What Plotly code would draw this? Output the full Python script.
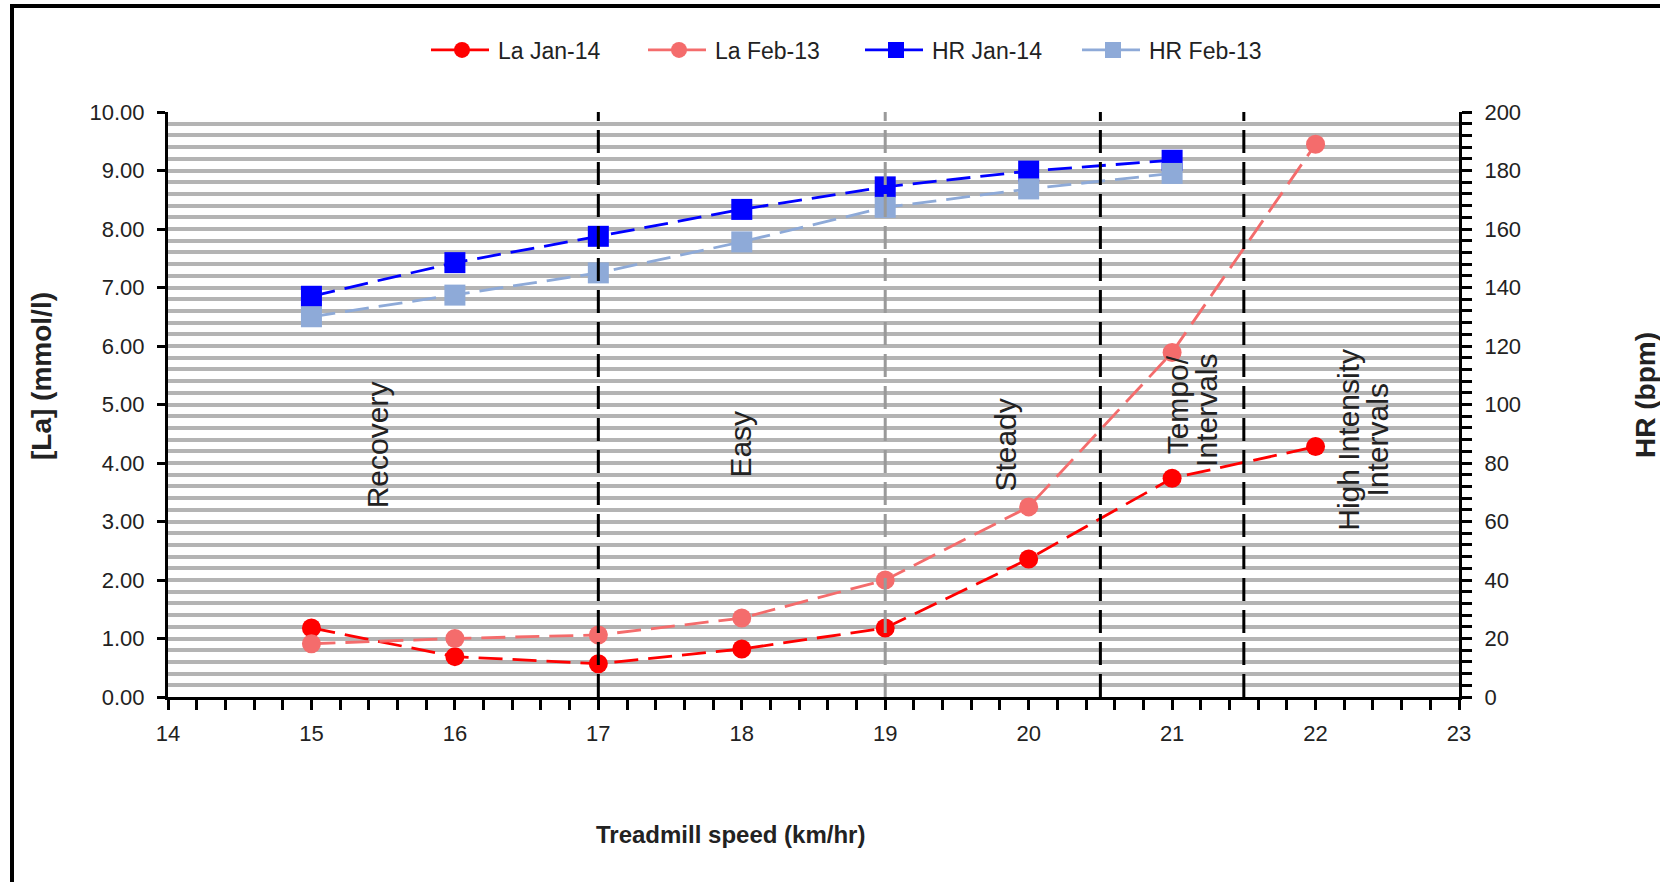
import plotly.graph_objects as go

# ---------------- data ----------------
speed_la = [15, 16, 17, 18, 19, 20, 21, 22]
la_jan14 = [1.18, 0.69, 0.57, 0.82, 1.18, 2.36, 3.74, 4.28]
la_feb13 = [0.91, 1.00, 1.06, 1.35, 2.00, 3.25, 5.89, 9.45]

speed_hr = [15, 16, 17, 18, 19, 20, 21]
hr_jan14 = [137, 148.5, 157.5, 166.7, 174.4, 179.8, 183.5]
hr_feb13 = [130, 137.4, 145, 155.6, 167.4, 173.7, 179]

series_names = ["La Jan-14", "La Feb-13", "HR Jan-14", "HR Feb-13"]

zone_lines_x = [17, 19, 20.5, 21.5]
zone_lines_color = ["black", "#9a9a9a", "black", "black"]

zone_labels = ["Recovery", "Easy", "Steady", "Tempo/", "Intervals", "High Intensity", "Intervals"]
zone_label_x = [15.46, 17.99, 19.84, 21.04, 21.24, 22.23, 22.43]
zone_label_y = [4.31, 4.32, 4.31, 5.0, 4.9, 4.39, 4.39]

x_title = "Treadmill speed (km/hr)"
y_title = "[La] (mmol/l)"
y2_title = "HR (bpm)"

# ---------------- layout geometry ----------------
W, H = 1660, 882
L, R, T, B = 168, 1459, 112, 697
FONT = "Liberation Sans, Arial, sans-serif"


def px_x(px):
    return (px - L) / (R - L)


def px_y(py):
    return (B - py) / (B - T)


RED = "#ff0000"
LRED = "#f46c6c"
BLUE = "#0000ff"
LBLUE = "#8eaad8"
DASH = "24px,10px"

fig = go.Figure()
fig.add_trace(go.Scatter(x=speed_la, y=la_jan14, name=series_names[0], mode="lines+markers",
                         line=dict(color=RED, width=2.8, dash=DASH),
                         marker=dict(symbol="circle", size=19, color=RED), yaxis="y"))
fig.add_trace(go.Scatter(x=speed_la, y=la_feb13, name=series_names[1], mode="lines+markers",
                         line=dict(color=LRED, width=2.8, dash=DASH),
                         marker=dict(symbol="circle", size=19, color=LRED), yaxis="y"))
fig.add_trace(go.Scatter(x=speed_hr, y=hr_jan14, name=series_names[2], mode="lines+markers",
                         line=dict(color=BLUE, width=2.8, dash=DASH),
                         marker=dict(symbol="square", size=21, color=BLUE), yaxis="y2"))
fig.add_trace(go.Scatter(x=speed_hr, y=hr_feb13, name=series_names[3], mode="lines+markers",
                         line=dict(color=LBLUE, width=2.8, dash=DASH),
                         marker=dict(symbol="square", size=21, color=LBLUE), yaxis="y2"))

shapes = []
for xv, col in zip(zone_lines_x, zone_lines_color):
    shapes.append(dict(type="line", xref="x", yref="y", x0=xv, x1=xv, y0=0, y1=10,
                       line=dict(color=col, width=3, dash="23px,9px"), layer="above"))
# outer frame (only top and left edges are visible)
shapes.append(dict(type="rect", xref="paper", yref="paper",
                   x0=px_x(12), x1=px_x(1720), y0=px_y(6), y1=px_y(940),
                   line=dict(color="black", width=4), layer="below"))

annotations = []
for txt, xv, yv in zip(zone_labels, zone_label_x, zone_label_y):
    annotations.append(dict(text=txt, x=xv, y=yv, xref="x", yref="y", showarrow=False,
                            textangle=-90, font=dict(family=FONT, size=30, color="#222222"),
                            xanchor="center", yanchor="middle"))
annotations.append(dict(text="<b>" + x_title + "</b>", x=px_x(730), y=px_y(834),
                        xref="paper", yref="paper", showarrow=False,
                        font=dict(family=FONT, size=24, color="#222222"),
                        xanchor="center", yanchor="middle"))
annotations.append(dict(text="<b>" + y_title + "</b>", x=px_x(42), y=px_y(376),
                        xref="paper", yref="paper", showarrow=False, textangle=-90,
                        font=dict(family=FONT, size=28, color="#222222"),
                        xanchor="center", yanchor="middle"))
annotations.append(dict(text="<b>" + y2_title + "</b>", x=px_x(1646), y=px_y(395),
                        xref="paper", yref="paper", showarrow=False, textangle=-90,
                        font=dict(family=FONT, size=28, color="#222222"),
                        xanchor="center", yanchor="middle"))

grid = "#b4b4b4"
fig.update_layout(
    width=W, height=H,
    margin=dict(l=L, r=W - R, t=T, b=H - B, pad=0),
    paper_bgcolor="white", plot_bgcolor="white",
    font=dict(family=FONT, size=22, color="#222222"),
    showlegend=True,
    legend=dict(orientation="h", x=px_x(426), y=px_y(50), xanchor="left", yanchor="middle",
                font=dict(family=FONT, size=23, color="#222222"),
                itemwidth=62, entrywidth=140, entrywidthmode="pixels",
                bgcolor="rgba(0,0,0,0)", traceorder="normal"),
    xaxis=dict(range=[14, 23], dtick=1, tick0=14, showgrid=False, zeroline=False,
               showline=True, linecolor="black", linewidth=3,
               ticks="outside", ticklen=10, tickwidth=3, tickcolor="black",
               ticklabelstandoff=5,
               minor=dict(dtick=0.2, ticks="outside", ticklen=10, tickwidth=3,
                          tickcolor="black", showgrid=False),
               tickfont=dict(family=FONT, size=22, color="#222222")),
    yaxis=dict(range=[0, 10], dtick=1, tick0=0, tickformat=".2f", zeroline=False,
               showline=True, linecolor="black", linewidth=3,
               ticks="outside", ticklen=8, tickwidth=3, tickcolor="black",
               ticklabelstandoff=8,
               showgrid=True, gridcolor=grid, gridwidth=4,
               minor=dict(dtick=0.2, showgrid=True, gridcolor=grid, gridwidth=4, ticks=""),
               tickfont=dict(family=FONT, size=22, color="#222222")),
    yaxis2=dict(range=[0, 200], dtick=20, tick0=0, overlaying="y", side="right",
                zeroline=False, showgrid=False,
                showline=True, linecolor="black", linewidth=3,
                ticks="outside", ticklen=10, tickwidth=3, tickcolor="black",
                ticklabelstandoff=8,
                minor=dict(dtick=4, ticks="outside", ticklen=10, tickwidth=3,
                           tickcolor="black", showgrid=False),
                tickfont=dict(family=FONT, size=22, color="#222222")),
    shapes=shapes,
    annotations=annotations,
)

fig.write_html("out.html")
